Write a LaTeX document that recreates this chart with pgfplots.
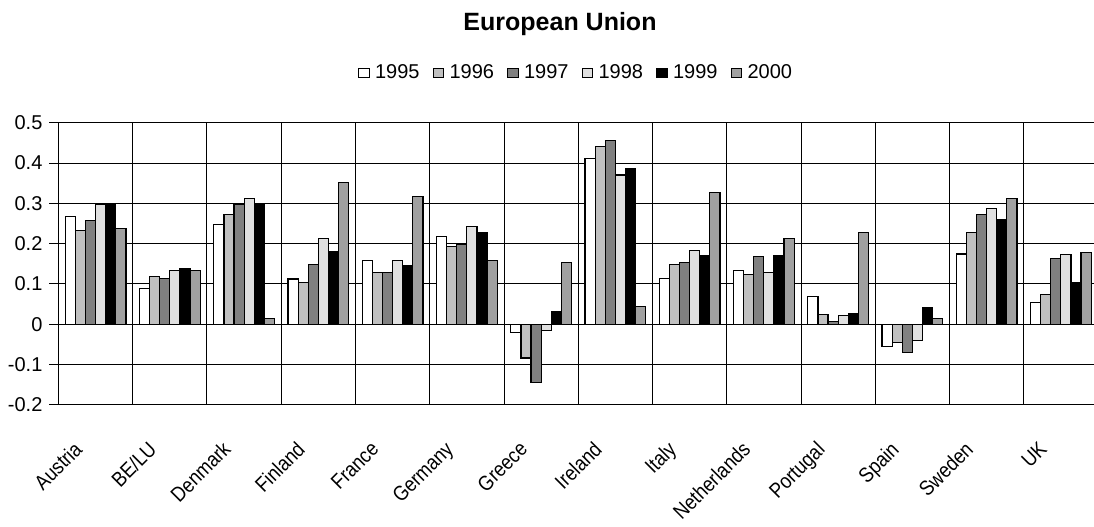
\documentclass[border=0pt]{standalone}
\usepackage{fontspec}
\setmainfont{Liberation Sans}
\newfontfamily\narrowfont[FakeStretch=0.87]{Liberation Sans}
\usepackage{pgfplots}
\usepackage{pgfplotstable}
\pgfplotsset{compat=1.18}
\definecolor{cA}{HTML}{FFFFFF}
\definecolor{cB}{HTML}{C0C0C0}
\definecolor{cC}{HTML}{808080}
\definecolor{cD}{HTML}{E0E0E0}
\definecolor{cE}{HTML}{000000}
\definecolor{cF}{HTML}{A0A0A0}
\pgfplotstableread{
x  a1995  a1996  a1997  a1998  a1999  a2000
0  0.267  0.232  0.258  0.297  0.297  0.238
1  0.088  0.119  0.113  0.133  0.139  0.133
2  0.248  0.272  0.297  0.312  0.297  0.014
3  0.112  0.104  0.149  0.212  0.179  0.352
4  0.158  0.128  0.128  0.158  0.145  0.317
5  0.217  0.193  0.199  0.242  0.228  0.158
6  -0.020 -0.084 -0.145 -0.016 0.031  0.153
7  0.411  0.440  0.455  0.370  0.387  0.043
8  0.113  0.148  0.154  0.183  0.169  0.327
9  0.133  0.124  0.168  0.128  0.169  0.213
10 0.069  0.024  0.006  0.021  0.025  0.227
11 -0.055 -0.045 -0.070 -0.040 0.040  0.014
12 0.174  0.227  0.272  0.287  0.260  0.312
13 0.054  0.074  0.163  0.173  0.104  0.178
}\datatable
\begin{document}
\begin{tikzpicture}
\begin{axis}[
  scale only axis, width=519.75pt, height=141pt,
  xmin=-0.5, xmax=13.5, ymin=-0.2, ymax=0.5,
  ybar=0pt, bar width=5.05pt,
  xtick={0,...,13},
  xticklabels={Austria,BE/LU,Denmark,Finland,France,Germany,Greece,Ireland,Italy,Netherlands,Portugal,Spain,Sweden,UK},
  x tick label style={xshift=-11.5pt, yshift=-13pt, rotate=45, anchor=north east, font=\narrowfont\fontsize{10.5}{12}\selectfont, inner sep=0pt},
  major x tick style={draw=none},
  minor xtick={0.5,1.5,...,12.5},
  xminorgrids=true,
  minor tick length=0pt,
  minor grid style={black, line width=0.5pt},
  ytick={-0.2,-0.1,0,0.1,0.2,0.3,0.4,0.5},
  yticklabels={-0.2,-0.1,0,0.1,0.2,0.3,0.4,0.5},
  ymajorgrids=true,
  major grid style={black, line width=0.5pt},
  ytick pos=left, tick align=outside, major tick length=4.5pt,
  y tick style={black, line width=0.5pt},
  y tick label style={font=\fontsize{10}{12}\selectfont},
  axis line style={black, line width=0.6pt},
  legend columns=-1,
  legend style={draw=none, fill=none, font=\fontsize{10}{12}\selectfont,
    at={(0.4969,1.1773)}, anchor=center,
    nodes={inner sep=0pt},
    /tikz/every odd column/.append style={column sep=2.7pt},
    /tikz/every even column/.append style={column sep=6.5pt}},
  every axis plot post/.append style={draw=black, line width=0.6pt,
    legend image code/.code={\draw[#1, line width=0.5pt] (0pt,-2.3pt) rectangle (5.3pt,2.3pt);}},
]
\addplot[fill=cA] table[x=x, y=a1995] {\datatable};
\addplot[fill=cB] table[x=x, y=a1996] {\datatable};
\addplot[fill=cC] table[x=x, y=a1997] {\datatable};
\addplot[fill=cD] table[x=x, y=a1998] {\datatable};
\addplot[fill=cE] table[x=x, y=a1999] {\datatable};
\addplot[fill=cF] table[x=x, y=a2000] {\datatable};
\legend{1995,1996,1997,1998,1999,2000}
\end{axis}
\node[anchor=base, font=\bfseries\fontsize{12.5}{15}\selectfont] at (250.75pt,187.35pt) {European Union};
\pgfresetboundingbox
\path[use as bounding box] (-29.25pt,-60.65pt) rectangle (517.75pt,202.35pt);
\end{tikzpicture}
\end{document}
